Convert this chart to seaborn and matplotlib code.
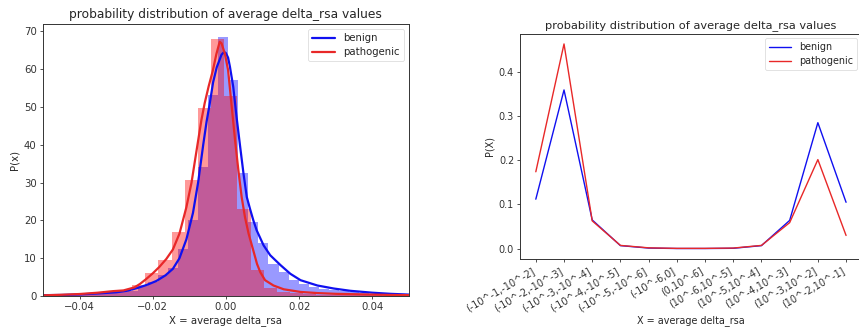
import numpy as np
import pandas as pd
import matplotlib
matplotlib.use("Agg")
import matplotlib.pyplot as plt
import seaborn as sns

# ---------------- data: left panel (histogram densities + KDE curves) -------------
benign_bin_start = -0.05162
benign_bin_width = 0.00275
benign_hist = [0.3, 0.3, 0.3, 0.4, 0.4, 0.5, 0.6, 0.8, 1.0, 1.3,
               2.8, 3.8, 5.5, 7.5, 12.5, 20.0, 34.0, 53.1, 68.6, 57.2,
               32.4, 19.6, 13.9, 8.6, 6.3, 4.2, 3.3, 2.4, 2.0, 1.6,
               1.3, 1.0, 0.8, 0.6, 0.5, 0.4, 0.3, 0.3]

patho_bin_start = -0.05087
patho_bin_width = 0.0036
patho_hist = [0.2, 0.3, 0.3, 0.5, 0.8, 1.2, 1.3, 3.0, 6.2, 9.5,
              16.9, 30.6, 49.6, 67.9, 53.0, 23.0, 6.8, 2.2, 1.0, 0.7,
              0.5, 0.4, 0.3, 0.3, 0.2, 0.2, 0.1, 0.1, 0.1]

benign_kde_x = [-0.05, -0.045, -0.04, -0.035, -0.03, -0.027, -0.024, -0.0215,
                -0.019, -0.0165, -0.0145, -0.0127, -0.0108, -0.009, -0.0076,
                -0.0062, -0.0053, -0.0044, -0.0035, -0.0025, -0.0012, -0.0005,
                0.0, 0.0006, 0.0011, 0.002, 0.0029, 0.0039, 0.0048, 0.0057,
                0.0066, 0.0075, 0.0084, 0.0103, 0.0121, 0.0149, 0.0176, 0.0204,
                0.025, 0.0295, 0.034, 0.04, 0.045, 0.05]
benign_kde_y = [0.25, 0.3, 0.45, 0.7, 1.0, 1.4, 2.2, 3.0,
                4.0, 5.5, 7.2, 10.0, 15.0, 22.0, 30.0,
                40.0, 46.0, 51.0, 56.5, 60.5, 63.8, 64.5,
                64.2, 63.0, 60.6, 55.3, 47.4, 39.4, 32.4, 26.2,
                23.0, 20.0, 17.4, 13.4, 10.8, 8.2, 5.9, 4.2,
                2.8, 2.0, 1.4, 0.9, 0.6, 0.4]

patho_kde_x = [-0.05, -0.045, -0.04, -0.035, -0.031, -0.028, -0.025, -0.0235,
               -0.0218, -0.02, -0.0182, -0.0163, -0.0145, -0.0127, -0.0108,
               -0.0094, -0.0081, -0.0067, -0.0058, -0.0047, -0.0036, -0.0026,
               -0.0017, -0.0012, -0.0003, 0.0006, 0.0015, 0.0025, 0.0034,
               0.0043, 0.0052, 0.0062, 0.0075, 0.0085, 0.0094, 0.0107, 0.013,
               0.0158, 0.0204, 0.025, 0.03, 0.035, 0.04, 0.045, 0.05]
patho_kde_y = [0.2, 0.35, 0.55, 0.9, 1.3, 1.5, 2.3, 3.2,
               4.5, 6.0, 7.7, 9.8, 12.3, 16.5, 23.5,
               30.0, 38.0, 46.5, 51.0, 55.5, 59.5, 64.0,
               67.2, 66.8, 64.1, 59.7, 50.9, 41.2, 33.3,
               26.2, 20.9, 16.5, 12.0, 8.5, 6.3, 4.2, 2.8,
               1.8, 1.1, 0.8, 0.6, 0.5, 0.4, 0.3, 0.25]

# ---------------- data: right panel (binned probabilities) -------------
bin_labels = ["(-10^-1,-10^-2]", "(-10^-2,-10^-3]", "(-10^-3,-10^-4]",
              "(-10^-4,-10^-5]", "(-10^-5,-10^-6]", "(-10^-6,0]",
              "(0,10^-6]", "(10^-6,10^-5]", "(10^-5,10^-4]",
              "(10^-4,10^-3]", "(10^-3,10^-2]", "(10^-2,10^-1]"]
benign_p = [0.112, 0.359, 0.065, 0.007, 0.0015, 0.0005,
            0.0005, 0.001, 0.007, 0.064, 0.285, 0.105]
patho_p = [0.174, 0.463, 0.063, 0.0075, 0.002, 0.0008,
           0.0008, 0.0015, 0.0075, 0.059, 0.2015, 0.030]

# ---------------- styling -------------
sns.set_style("white")
plt.rcParams["font.family"] = ["DejaVu Sans"]
plt.rcParams["axes.edgecolor"] = "#333333"
plt.rcParams["axes.linewidth"] = 0.7
plt.rcParams["xtick.color"] = "#333333"
plt.rcParams["ytick.color"] = "#333333"
plt.rcParams["text.color"] = "#262626"

fig = plt.figure(figsize=(8.59, 3.29), dpi=100)
ax1 = fig.add_axes([0.050, 0.100, 0.426, 0.827])
ax2 = fig.add_axes([0.6057, 0.2128, 0.3973, 0.6848])

BLUE = "#1010f0"
RED = "#e82828"

# ---- left panel ----
def hist_layer(ax, start, width, heights, color):
    n = len(heights)
    edges = start + width * np.arange(n + 1)
    hdf = pd.DataFrame({"center": (edges[:-1] + edges[1:]) / 2,
                        "height": np.asarray(heights, dtype=float)})
    sns.histplot(data=hdf, x="center", weights="height", bins=list(edges),
                 stat="count", color=color, alpha=0.4, linewidth=0,
                 ax=ax, legend=False)

hist_layer(ax1, benign_bin_start, benign_bin_width, benign_hist, "blue")
sns.lineplot(x=benign_kde_x, y=benign_kde_y, color=BLUE, lw=1.6,
             label="benign", ax=ax1)
hist_layer(ax1, patho_bin_start, patho_bin_width, patho_hist, "red")
sns.lineplot(x=patho_kde_x, y=patho_kde_y, color=RED, lw=1.6,
             label="pathogenic", ax=ax1)

ax1.set_xlim(-0.05, 0.05)
ax1.set_ylim(0, 71.9)
ax1.set_xticks([-0.04, -0.02, 0.0, 0.02, 0.04])
ax1.set_xticklabels(["\u22120.04", "\u22120.02", "0.00", "0.02", "0.04"])
ax1.set_yticks([0, 10, 20, 30, 40, 50, 60, 70])
ax1.tick_params(labelsize=7.3, length=2.5, width=0.6, pad=2,
                bottom=True, left=True)
ax1.set_title("probability distribution of average delta_rsa values",
              fontsize=8.8, pad=4)
ax1.set_xlabel("X = average delta_rsa", fontsize=7.3, labelpad=2)
ax1.set_ylabel("P(x)", fontsize=7.3, labelpad=3)
leg1 = ax1.legend(loc="upper right", fontsize=7.3, frameon=True,
                  handlelength=2.3, borderpad=0.4, labelspacing=0.4)
leg1.get_frame().set_linewidth(0.5)

# ---- right panel ----
df = pd.DataFrame({"pos": np.arange(len(bin_labels)),
                   "benign": benign_p, "pathogenic": patho_p})
sns.lineplot(data=df, x="pos", y="benign", color=BLUE, lw=1.0,
             label="benign", ax=ax2)
sns.lineplot(data=df, x="pos", y="pathogenic", color=RED, lw=1.0,
             label="pathogenic", ax=ax2)
ax2.set_xlim(-0.55, len(bin_labels) - 1 + 0.55)
ax2.set_ylim(-0.0232, 0.4862)
ax2.set_xticks(df["pos"])
ax2.set_xticklabels(bin_labels, rotation=30, ha="right")
ax2.set_yticks([0.0, 0.1, 0.2, 0.3, 0.4])
ax2.tick_params(labelsize=6.9, length=2.5, width=0.6, pad=2,
                bottom=True, left=True)
ax2.set_title("probability distribution of average delta_rsa values",
              fontsize=8.2, pad=4)
ax2.set_xlabel("X = average delta_rsa", fontsize=6.9, labelpad=2)
ax2.set_ylabel("P(X)", fontsize=6.9, labelpad=3)
leg2 = ax2.legend(loc="upper right", fontsize=6.9, frameon=True,
                  handlelength=2.3, borderpad=0.4, labelspacing=0.4)
leg2.get_frame().set_linewidth(0.5)

fig.savefig("out.png", dpi=100)
